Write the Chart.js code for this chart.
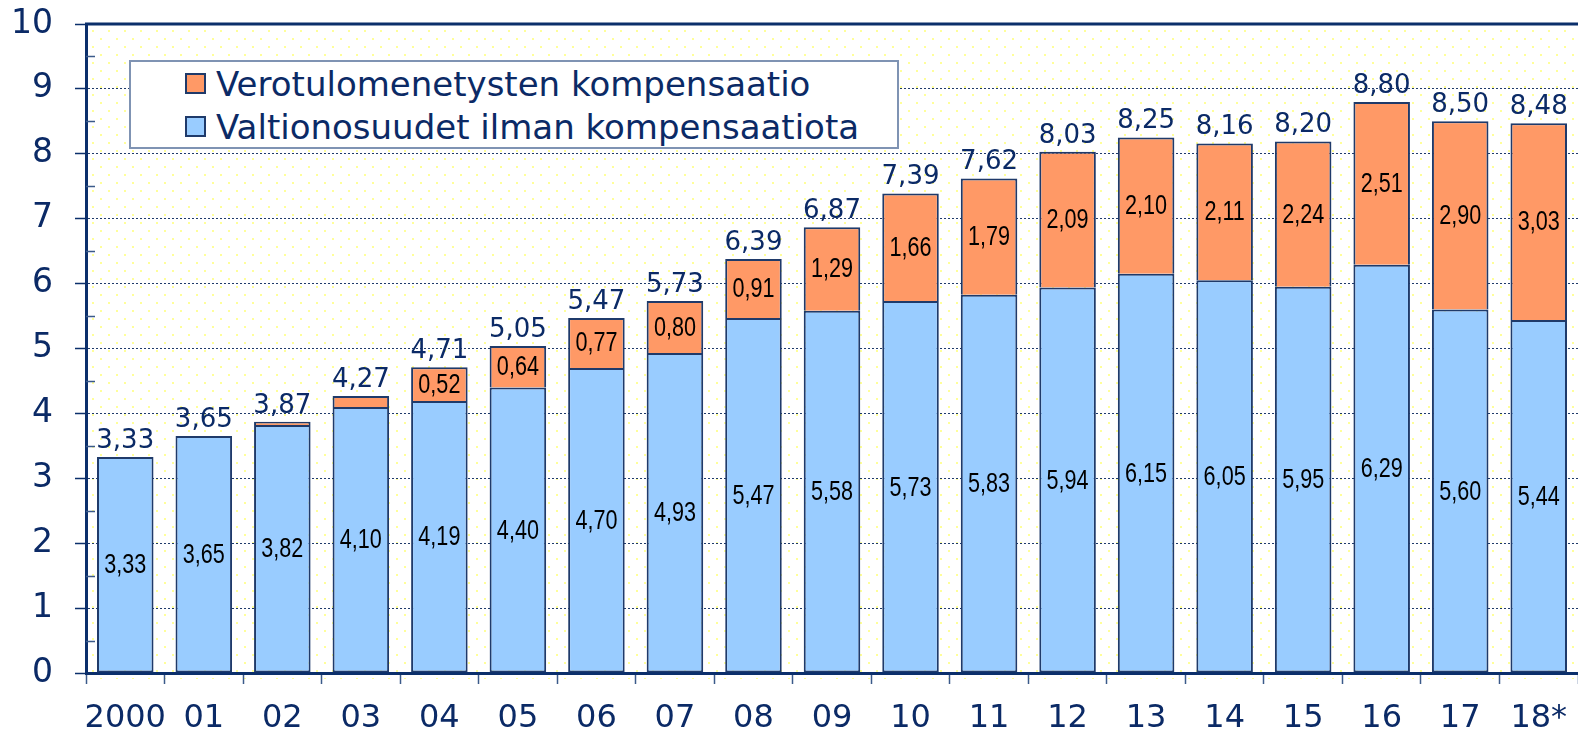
<!DOCTYPE html>
<html>
<head>
<meta charset="utf-8">
<script src="https://cdn.jsdelivr.net/npm/chart.js@4.4.1/dist/chart.umd.min.js"></script>
<style>
  html, body { margin: 0; padding: 0; background: #fff; }
  #wrap { position: relative; width: 1578px; height: 731px; }
  #legend {
    position: absolute; left: 129px; top: 60px; width: 770px; height: 89px;
    background: #fff; border: 2px solid #7f93b3; box-sizing: border-box;
    font-family: "DejaVu Sans", Verdana, sans-serif; font-size: 34px; color: #0b2a66;
  }
  #legend div { position: absolute; left: 54px; height: 44px; line-height: 44px; white-space: nowrap; }
  #legend span {
    display: inline-block; width: 17px; height: 17px; border: 2px solid #1f3a6a;
    margin-right: 10px; vertical-align: 2px;
  }
</style>
</head>
<body>
<div id="wrap">
  <canvas id="chart" width="1578" height="731"></canvas>
  <div id="legend">
    <div style="top: 0px"><span style="background:#ff9966"></span>Verotulomenetysten kompensaatio</div>
    <div style="top: 43px"><span style="background:#99ccff"></span>Valtionosuudet ilman kompensaatiota</div>
  </div>
</div>
<script>
const years = ["2000", "01", "02", "03", "04", "05", "06", "07", "08", "09", "10", "11", "12", "13", "14", "15", "16", "17", "18*"]
const valtionosuudet = [3.33, 3.65, 3.82, 4.10, 4.19, 4.40, 4.70, 4.93, 5.47, 5.58, 5.73, 5.83, 5.94, 6.15, 6.05, 5.95, 6.29, 5.60, 5.44]
const kompensaatio = [0, 0, 0.05, 0.17, 0.52, 0.64, 0.77, 0.80, 0.91, 1.29, 1.66, 1.79, 2.09, 2.10, 2.11, 2.24, 2.51, 2.90, 3.03]
const yhteensa = [3.33, 3.65, 3.87, 4.27, 4.71, 5.05, 5.47, 5.73, 6.39, 6.87, 7.39, 7.62, 8.03, 8.25, 8.16, 8.20, 8.80, 8.50, 8.48]

const navy = "#0b2a66"
const fmt = v => v.toFixed(2).replace(".", ",")

// yellow dotted background
function dotPattern(ctx) {
  const c = document.createElement("canvas")
  c.width = 16; c.height = 16
  const p = c.getContext("2d")
  p.fillStyle = "#ffff99"
  p.fillRect(0, 0, 2, 2)
  p.fillRect(8, 8, 2, 2)
  return ctx.createPattern(c, "repeat")
}

const backgroundPlugin = {
  id: "bgdots",
  beforeDraw(chart) {
    const {ctx, chartArea: a} = chart
    ctx.save()
    ctx.translate(a.left + 6, a.top + 6)
    ctx.fillStyle = dotPattern(ctx)
    ctx.fillRect(-6, -6, a.right - a.left + 6, a.bottom - a.top + 6)
    ctx.restore()
  }
}

// narrow-looking numbers inside the bars
function narrowText(ctx, text, x, y) {
  ctx.save()
  ctx.translate(x, y)
  ctx.scale(0.8, 1)
  ctx.fillText(text, 0, 0)
  ctx.restore()
}

const labelPlugin = {
  id: "barlabels",
  afterDatasetsDraw(chart) {
    const {ctx} = chart
    const y = chart.scales.y
    ctx.save()
    ctx.textAlign = "center"
    ctx.textBaseline = "middle"
    ctx.font = "27px 'Liberation Sans', Arial, sans-serif"
    ctx.fillStyle = "#000"
    chart.getDatasetMeta(0).data.forEach((bar, i) => {
      const v = valtionosuudet[i]
      narrowText(ctx, fmt(v), bar.x, y.getPixelForValue(v / 2) + 1)
    })
    chart.getDatasetMeta(1).data.forEach((bar, i) => {
      const k = kompensaatio[i]
      if (k < 0.3) return
      const base = valtionosuudet[i]
      narrowText(ctx, fmt(k), bar.x, y.getPixelForValue(base + k / 2) + 1)
    })
    ctx.font = "26px 'DejaVu Sans', Verdana, sans-serif"
    ctx.fillStyle = navy
    ctx.textBaseline = "bottom"
    chart.getDatasetMeta(1).data.forEach((bar, i) => {
      ctx.fillText(fmt(yhteensa[i]), bar.x, y.getPixelForValue(valtionosuudet[i] + kompensaatio[i]) - 3)
    })
    ctx.restore()
  },
  afterDraw(chart) {
    const {ctx, chartArea: a} = chart
    const y = chart.scales.y
    ctx.save()
    ctx.strokeStyle = "#0b2f6b"
    ctx.lineWidth = 3
    ctx.beginPath()
    ctx.moveTo(a.left - 1, a.top)
    ctx.lineTo(a.right, a.top)
    ctx.stroke()
    // minor ticks on the value axis
    ctx.lineWidth = 1.5
    ctx.strokeStyle = "#3b5a8a"
    for (let v = 0.5; v < 10; v += 1) {
      const py = Math.round(y.getPixelForValue(v)) + 0.5
      ctx.beginPath()
      ctx.moveTo(a.left, py)
      ctx.lineTo(a.left + 9, py)
      ctx.stroke()
    }
    ctx.restore()
  }
}

const chart = new Chart("chart", {
  type: "bar",
  data: {
    labels: years,
    datasets: [
      {
        label: "Valtionosuudet ilman kompensaatiota",
        data: valtionosuudet,
        backgroundColor: "#99ccff",
        borderColor: "#1f3a6a",
        borderWidth: 2,
        borderSkipped: false,
      },
      {
        label: "Verotulomenetysten kompensaatio",
        data: kompensaatio,
        backgroundColor: "#ff9966",
        borderColor: "#1f3a6a",
        borderWidth: 2,
        borderSkipped: "bottom",
      }
    ]
  },
  options: {
    responsive: false,
    animation: false,
    layout: {padding: {top: 24, right: 0, left: 0, bottom: 0}},
    datasets: {bar: {categoryPercentage: 1, barPercentage: 0.72}},
    plugins: {
      legend: {display: false},
      tooltip: {enabled: false},
    },
    scales: {
      x: {
        stacked: true,
        afterFit: s => { s.height = 58; s.paddingLeft = 0; s.paddingRight = 0 },
        grid: {offset: true, drawOnChartArea: false, tickLength: 11, tickColor: "#3b5a8a", tickWidth: 1.5},
        border: {color: "#0b2f6b", width: 3},
        ticks: {color: navy, padding: 15, maxRotation: 0, autoSkip: false, font: {family: "'DejaVu Sans', Verdana, sans-serif", size: 32}}
      },
      y: {
        stacked: true,
        min: 0,
        max: 10,
        afterFit: s => { s.width = 86; s.paddingTop = 0; s.paddingBottom = 0 },
        grid: {color: "#1f3a6a", lineWidth: 1, tickLength: 11, tickColor: "#0b2f6b", tickWidth: 1.5},
        border: {color: "#0b2f6b", width: 3, dash: [2, 2]},
        ticks: {stepSize: 1, color: navy, padding: 22, font: {family: "'DejaVu Sans', Verdana, sans-serif", size: 33}}
      }
    }
  },
  plugins: [backgroundPlugin, labelPlugin]
})
</script>
</body>
</html>
